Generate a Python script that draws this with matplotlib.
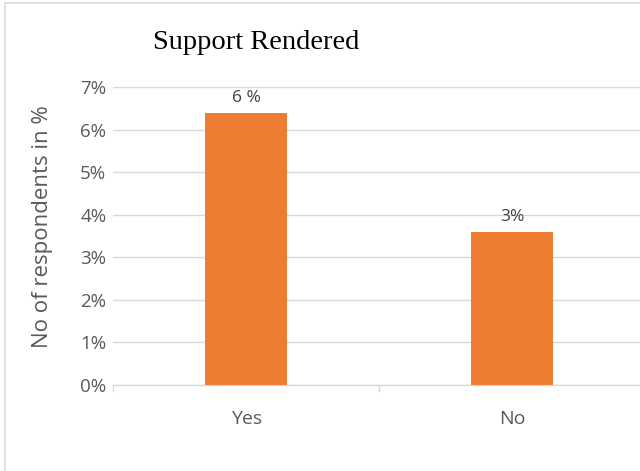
import matplotlib
matplotlib.use('Agg')
import matplotlib.pyplot as plt
from matplotlib.patches import Rectangle
from matplotlib.ticker import FuncFormatter

# dados do grafico
categorias = ['Yes', 'No']
valores = [6.4, 3.6]
rotulos = ['6 %', '3%']
ticks_y = [0, 1, 2, 3, 4, 5, 6, 7]

cor_barra = '#ED7D31'
cor_texto = '#595959'
cor_grade = '#D9D9D9'

plt.rcParams['font.family'] = ['Open Sans', 'DejaVu Sans']

fig = plt.figure(figsize=(6.4, 4.71), dpi=100)

# borda da area do grafico
fig.patches.append(Rectangle((0.008, -0.05), 1.05, 1.044, transform=fig.transFigure,
                             fill=False, edgecolor=cor_grade, lw=1.2))

ax = fig.add_axes([0.177, 0.183, 0.831, 0.632])
x = list(range(len(categorias)))
ax.bar(x, valores, width=0.31, color=cor_barra, zorder=3)

for xi, v, r in zip(x, valores, rotulos):
    ax.text(xi, v + 0.15, r, ha='center', va='bottom', fontsize=12.5, color='#404040')

ax.set_xlim(-0.5, 1.5)
ax.set_ylim(0, 7)
ax.set_yticks(ticks_y)
ax.yaxis.set_major_formatter(FuncFormatter(lambda v, p: f'{int(v)}%'))
ax.set_xticks(x)
ax.set_xticklabels(categorias)
ax.set_xticks([-0.5, 0.5, 1.5], minor=True)

ax.grid(axis='y', color=cor_grade, lw=1, zorder=0)
for s in ['top', 'right', 'left']:
    ax.spines[s].set_visible(False)
ax.spines['bottom'].set_color(cor_grade)
ax.spines['bottom'].set_linewidth(1)

ax.tick_params(axis='y', length=0, pad=5, labelsize=13.5, labelcolor=cor_texto)
ax.tick_params(axis='x', which='major', length=0, pad=18, labelsize=14, labelcolor=cor_texto)
ax.tick_params(axis='x', which='minor', length=5, color=cor_grade, width=1)

ax.set_ylabel('No of respondents in %', fontsize=16, color=cor_texto, va='center')
ax.yaxis.set_label_coords(-0.1325, 0.53)

fig.text(0.40, 0.909, 'Support Rendered', ha='center', va='center',
         fontsize=20.5, family='Liberation Serif', color='black')

fig.savefig('out.png', dpi=100)
